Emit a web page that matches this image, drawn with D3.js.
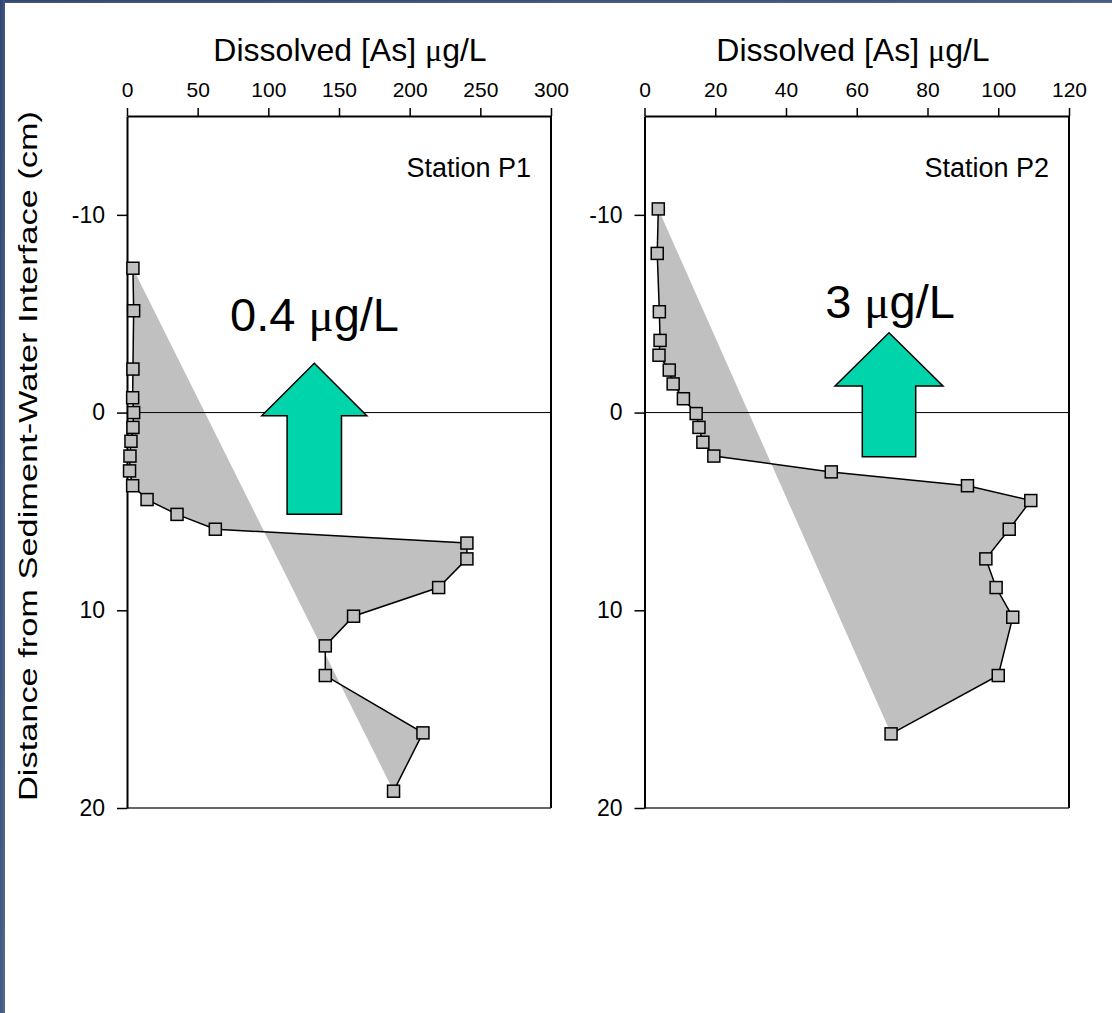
<!DOCTYPE html>
<html>
<head>
<meta charset="utf-8">
<script src="https://cdn.jsdelivr.net/npm/d3@7"></script>
<style>
  html, body { margin: 0; padding: 0; background: #fff; }
  svg { display: block; }
  text { font-family: "Liberation Sans", Arial, sans-serif; fill: #000; }
</style>
</head>
<body>
<svg id="chart" width="1112" height="1013"></svg>
<script>
// ---- data ----
const depthP1 = [-7.3, -5.15, -2.2, -0.75, 0, 0.75, 1.45, 2.2, 2.95, 3.7, 4.4, 5.15, 5.9, 6.6, 7.4, 8.85, 10.3, 11.8, 13.3, 16.2, 19.15];
const asP1    = [4.2, 4.7, 4.2, 4.0, 4.7, 4.2, 2.8, 2.1, 1.8, 4.0, 14.2, 35.4, 62.5, 240.5, 240.5, 220.5, 160.3, 140.3, 140.3, 209.4, 188.6];
const depthP2 = [-10.3, -8.05, -5.1, -3.65, -2.9, -2.15, -1.45, -0.7, 0.05, 0.75, 1.5, 2.2, 3.0, 3.7, 4.45, 5.9, 7.4, 8.85, 10.35, 13.3, 16.25];
const asP2    = [3.9, 3.6, 4.2, 4.4, 4.1, 7.0, 8.1, 11.0, 14.6, 15.4, 16.5, 19.6, 52.8, 91.3, 109.2, 103.1, 96.5, 99.4, 104.1, 100.0, 69.7];
const xTicksP1 = [0, 50, 100, 150, 200, 250, 300];
const xTicksP2 = [0, 20, 40, 60, 80, 100, 120];
const yTicks = [-10, 0, 10, 20];
const stations = ["Station P1", "Station P2"];
const fluxLabels = ["0.4 ", "3 "];

// ---- layout ----
(function () {
const svg = d3.select("#chart");
const W = 1112, H = 1013;
const plotTop = 116, plotBottom = 808;

// slide frame
const defs = svg.append("defs");
const grad = defs.append("linearGradient").attr("id", "frame").attr("x1", 0).attr("x2", 1).attr("y1", 0).attr("y2", 1);
grad.append("stop").attr("offset", "0%").attr("stop-color", "#2f4472");
grad.append("stop").attr("offset", "100%").attr("stop-color", "#56698f");
svg.append("rect").attr("x", 0).attr("y", 0).attr("width", W).attr("height", 3).attr("fill", "url(#frame)");
svg.append("rect").attr("x", 0).attr("y", 0).attr("width", 5).attr("height", H).attr("fill", "url(#frame)");

const y = d3.scaleLinear().domain([-15, 20]).range([plotTop, plotBottom]);

const panels = [
  { left: 127, right: 551, xmax: 300, xt: xTicksP1, depth: depthP1, as: asP1, station: stations[0],
    titleX: 350, flux: fluxLabels[0], fluxX: 314.5, fluxY: 331,
    arrow: { tx: 314.3, ty: 363.3, hb: 415.7, hw: 52.5, sw: 27.2, by: 514.3 } },
  { left: 644.5, right: 1069, xmax: 120, xt: xTicksP2, depth: depthP2, as: asP2, station: stations[1],
    titleX: 853, flux: fluxLabels[1], fluxX: 890, fluxY: 318,
    arrow: { tx: 889, ty: 332.7, hb: 386, hw: 54, sw: 26.7, by: 456.7 } }
];

panels.forEach(p => {
  const x = d3.scaleLinear().domain([0, p.xmax]).range([p.left, p.right]);
  const g = svg.append("g");
  const pts = p.depth.map((d, i) => [x(p.as[i]), y(d)]);

  // shaded area (profile closed back to first point)
  g.append("path")
    .attr("d", d3.line()(pts) + "Z")
    .attr("fill", "#c0c0c0").attr("stroke", "none");

  // zero line
  g.append("line").attr("x1", p.left).attr("x2", p.right).attr("y1", y(0)).attr("y2", y(0))
    .attr("stroke", "#000").attr("stroke-width", 1);

  // frame right & bottom
  g.append("line").attr("x1", p.right).attr("x2", p.right).attr("y1", plotTop).attr("y2", plotBottom)
    .attr("stroke", "#000").attr("stroke-width", 2);
  g.append("line").attr("x1", p.left).attr("x2", p.right).attr("y1", plotBottom).attr("y2", plotBottom)
    .attr("stroke", "#333").attr("stroke-width", 1.5);

  // top axis
  const xa = g.append("g").attr("transform", `translate(0,${plotTop})`)
    .call(d3.axisTop(x).tickValues(p.xt).tickSize(8).tickPadding(11).tickSizeOuter(0));
  xa.select(".domain").attr("stroke-width", 2);
  xa.selectAll(".tick line").attr("stroke-width", 1.5);
  xa.selectAll("text").attr("font-size", 21).attr("font-family", '"Liberation Sans", Arial, sans-serif');

  // left axis
  const ya = g.append("g").attr("transform", `translate(${p.left},0)`)
    .call(d3.axisLeft(y).tickValues(yTicks).tickSize(10).tickPadding(12).tickSizeOuter(0)
      .tickFormat(d => d < 0 ? "-" + Math.abs(d) : d));
  ya.select(".domain").attr("stroke-width", 2);
  ya.selectAll(".tick line").attr("stroke-width", 1.5);
  ya.selectAll("text").attr("font-size", 23).attr("font-family", '"Liberation Sans", Arial, sans-serif');

  // title
  const t = g.append("text").attr("x", p.titleX).attr("y", 61).attr("text-anchor", "middle").attr("font-size", 32);
  t.append("tspan").text("Dissolved [As] ");
  t.append("tspan").attr("font-family", '"Liberation Serif", serif').text("μ");
  t.append("tspan").text("g/L");

  // station label
  g.append("text").attr("x", p.right - 20).attr("y", 177).attr("text-anchor", "end")
    .attr("font-size", 27).text(p.station);

  // profile line
  g.append("path").attr("d", d3.line()(pts)).attr("fill", "none").attr("stroke", "#000").attr("stroke-width", 1.5);

  // markers
  g.selectAll("rect.m").data(pts).join("rect").attr("class", "m")
    .attr("x", d => d[0] - 6).attr("y", d => d[1] - 6).attr("width", 12).attr("height", 12)
    .attr("fill", "#c0c0c0").attr("stroke", "#000").attr("stroke-width", 1.5);

  // flux label
  const f = g.append("text").attr("x", p.fluxX).attr("y", p.fluxY).attr("text-anchor", "middle").attr("font-size", 47);
  f.append("tspan").text(p.flux);
  f.append("tspan").attr("font-family", '"Liberation Serif", serif').text("μ");
  f.append("tspan").text("g/L");

  // arrow
  const a = p.arrow;
  const arrowPts = [
    [a.tx, a.ty], [a.tx + a.hw, a.hb], [a.tx + a.sw, a.hb], [a.tx + a.sw, a.by],
    [a.tx - a.sw, a.by], [a.tx - a.sw, a.hb], [a.tx - a.hw, a.hb]
  ];
  g.append("path").attr("d", d3.line()(arrowPts) + "Z")
    .attr("fill", "#00d4aa").attr("stroke", "#000").attr("stroke-width", 1.5).attr("stroke-linejoin", "miter");
});

// y-axis label
svg.append("text")
  .attr("transform", "translate(37,456) rotate(-90)")
  .attr("text-anchor", "middle").attr("font-size", 25)
  .attr("textLength", 690).attr("lengthAdjust", "spacingAndGlyphs")
  .text("Distance from Sediment-Water Interface (cm)");
})();
</script>
</body>
</html>
